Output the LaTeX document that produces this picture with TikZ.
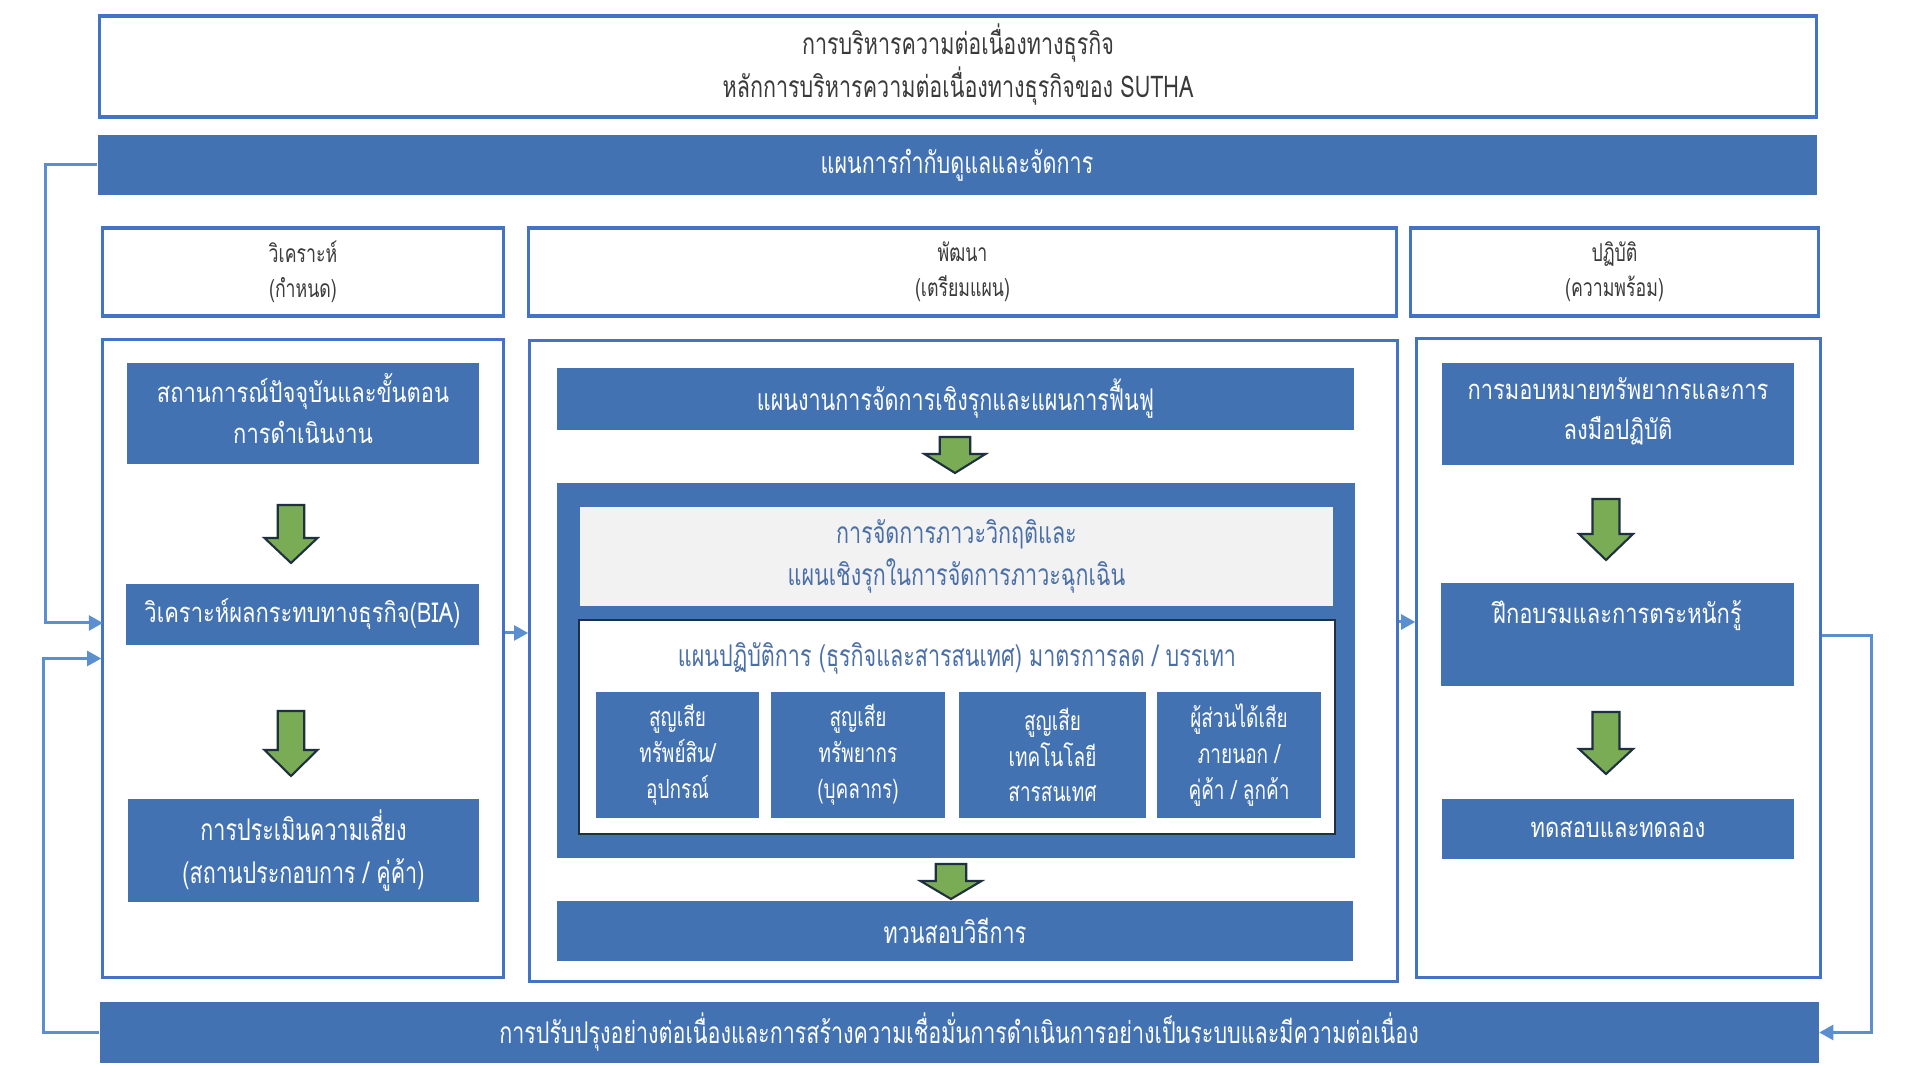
\documentclass[tikz,border=0pt]{standalone}
\usepackage{fontspec}
\usetikzlibrary{
    arrows.meta,
    calc
}
\newfontfamily\thainarrow[Script = Thai, FakeStretch = 0.72]{Loma}
\newfontfamily\thailoop[Script = Thai, FakeStretch = 0.8]{Loma}
\newcommand\titlefont{\thainarrow\fontsize{8.5}{12.2}\selectfont}
\newcommand\headfont{\thainarrow\fontsize{7}{10}\selectfont}
\newcommand\boxfont{\thainarrow\fontsize{8.5}{12}\selectfont}
\newcommand\smallfont{\thainarrow\fontsize{7.5}{10.2}\selectfont}
\newcommand\loopfont{\thailoop\fontsize{7.8}{11.4}\selectfont}
\definecolor{frameblue}{HTML}{4472C4}
\definecolor{fillblue}{HTML}{4272B2}
\definecolor{loopblue}{HTML}{5B8FD0}
\definecolor{arrowgreen}{HTML}{7AAB55}
\definecolor{arrowedge}{HTML}{1F3040}
\definecolor{textgray}{HTML}{3A3A3A}
\definecolor{paneltext}{HTML}{4A6FA8}
\definecolor{panelgray}{HTML}{F2F2F2}
\tikzset {
    frame box/.style = {draw = frameblue, line width = 0.9pt, fill = white,
        text = textgray, align = center, inner sep = 0pt},
    blue box/.style = {fill = fillblue, text = white, align = center, inner sep = 0pt},
    gray box/.style = {fill = panelgray, text = paneltext, align = center, inner sep = 0pt},
    white box/.style = {draw = arrowedge, line width = 0.7pt, fill = white, inner sep = 0pt},
    loop line/.style = {draw = loopblue, line width = 0.85pt},
    flow/.style = {loop line, -{Triangle[length = 4pt, width = 4.2pt]}},
    %
    pics/down arrow/.style n args = {3}{
        code = {
            \draw [fill = arrowgreen, draw = arrowedge, line width = 0.6pt]
                (-#1/4, 0) -- (#1/4, 0) -- (#1/4, #2-#3) -- (#1/2, #2-#3)
                -- (0, #2) -- (-#1/2, #2-#3) -- (-#1/4, #2-#3) -- cycle;
        }
    }
}

\begin{document}
\begin{tikzpicture}[x = 0.01cm, y = -0.01cm]
    \useasboundingbox (0, 0) rectangle (1920, 1080);

    \node (title) [frame box, font = \titlefont, minimum width = 17.16cm, minimum height = 1.01cm,
        text depth = 0.12cm] at (958, 66.5)
        {การบริหารความต่อเนื่องทางธุรกิจ\\หลักการบริหารความต่อเนื่องทางธุรกิจของ SUTHA};
    \node (gov) [blue box, font = \titlefont, minimum width = 17.18cm, minimum height = 0.6cm]
        at (957, 165) {แผนการกำกับดูแลและจัดการ};

    \node (hL) [frame box, font = \headfont, minimum width = 4cm, minimum height = 0.88cm]
        at (303, 272) {วิเคราะห์\\(กำหนด)};
    \node (hM) [frame box, font = \headfont, minimum width = 8.67cm, minimum height = 0.88cm]
        at (962.5, 272) {พัฒนา\\(เตรียมแผน)};
    \node (hR) [frame box, font = \headfont, minimum width = 4.07cm, minimum height = 0.88cm]
        at (1614.5, 272) {ปฏิบัติ\\(ความพร้อม)};

    \node (cL) [frame box, minimum width = 4cm, minimum height = 6.37cm] at (303, 658.5) {};
    \node (cM) [frame box, minimum width = 8.67cm, minimum height = 6.4cm] at (963.5, 661) {};
    \node (cR) [frame box, minimum width = 4.03cm, minimum height = 6.38cm] at (1618.5, 658) {};

    \node (l1) [blue box, font = \loopfont, minimum width = 3.52cm, minimum height = 1.01cm,
        text depth = 0.1cm] at (303, 413.5) {สถานการณ์ปัจจุบันและขั้นตอน\\การดำเนินงาน};
    \node (l2) [blue box, font = \loopfont, minimum width = 3.53cm, minimum height = 0.61cm]
        at (302.5, 614.5) {วิเคราะห์ผลกระทบทางธุรกิจ(BIA)};
    \node (l3) [blue box, font = \boxfont, minimum width = 3.51cm, minimum height = 1.03cm]
        at (303.5, 850.5) {การประเมินความเสี่ยง\\(สถานประกอบการ / คู่ค้า)};
    \pic at (291, 505) {down arrow = {53}{58}{25}};
    \pic at (291, 711) {down arrow = {53}{65}{26}};

    \node (m1) [blue box, font = \boxfont, minimum width = 7.97cm, minimum height = 0.62cm]
        at (955.5, 399) {แผนงานการจัดการเชิงรุกและแผนการฟื้นฟู};
    \pic at (955, 437) {down arrow = {61}{36}{19}};
    \node (plan) [blue box, minimum width = 7.98cm, minimum height = 3.75cm] at (956, 670.5) {};
    \node (crisis) [gray box, font = \boxfont, minimum width = 7.53cm, minimum height = 0.99cm]
        at (956.5, 556.5) {การจัดการภาวะวิกฤติและ\\แผนเชิงรุกในการจัดการภาวะฉุกเฉิน};
    \node (ops) [white box, minimum width = 7.56cm, minimum height = 2.14cm] at (957, 727) {};
    \node (opstitle) [font = \boxfont, text = paneltext] at (957, 658)
        {แผนปฏิบัติการ (ธุรกิจและสารสนเทศ) มาตรการลด / บรรเทา};
    \node (s1) [blue box, font = \smallfont, minimum width = 1.63cm, minimum height = 1.26cm]
        at (677.5, 755) {สูญเสีย\\ทรัพย์สิน/\\อุปกรณ์};
    \node (s2) [blue box, font = \smallfont, minimum width = 1.74cm, minimum height = 1.26cm]
        at (858, 755) {สูญเสีย\\ทรัพยากร\\(บุคลากร)};
    \node (s3) [blue box, font = \smallfont, minimum width = 1.87cm, minimum height = 1.26cm]
        at (1052.5, 755) {สูญเสีย\\เทคโนโลยี\\สารสนเทศ};
    \node (s4) [blue box, font = \smallfont, minimum width = 1.64cm, minimum height = 1.26cm]
        at (1239, 755) {ผู้ส่วนได้เสีย\\ภายนอก /\\คู่ค้า / ลูกค้า};
    \pic at (951, 864) {down arrow = {61}{35}{18}};
    \node (m3) [blue box, font = \boxfont, minimum width = 7.96cm, minimum height = 0.6cm]
        at (955, 931) {ทวนสอบวิธีการ};

    \node (r1) [blue box, font = \loopfont, minimum width = 3.52cm, minimum height = 1.02cm,
        text depth = 0.1cm] at (1618, 414) {การมอบหมายทรัพยากรและการ\\ลงมือปฏิบัติ};
    \node (r2) [blue box, font = \loopfont, minimum width = 3.53cm, minimum height = 1.03cm,
        text depth = 0.45cm] at (1617.5, 634.5) {ฝึกอบรมและการตระหนักรู้};
    \node (r3) [blue box, font = \loopfont, minimum width = 3.52cm, minimum height = 0.6cm]
        at (1618, 829) {ทดสอบและทดลอง};
    \pic at (1606, 499) {down arrow = {54}{61}{26}};
    \pic at (1606, 712) {down arrow = {54}{62}{25}};

    \node (bot) [blue box, font = \titlefont, minimum width = 17.18cm, minimum height = 0.61cm]
        at (959, 1032.5) {การปรับปรุงอย่างต่อเนื่องและการสร้างความเชื่อมั่นการดำเนินการอย่างเป็นระบบและมีความต่อเนื่อง};

    \coordinate (inL) at (103, 623);
    \coordinate (lm) at (503, 633);
    \coordinate (mr) at (1397, 622);
    \coordinate (outR) at (1871, 636);
    \draw [flow] (gov.west) -- ++(-51, 0) |- (inL);
    \draw [flow] (bot.west) -- ++(-55, 0) |- (cL.west);
    \draw [flow] (cL.east |- lm) -- (cM.west |- lm);
    \draw [flow] (cM.east |- mr) -- (cR.west |- mr);
    \draw [flow] (cR.east |- outR) -- (outR) |- (bot.east);
\end{tikzpicture}
\end{document}
